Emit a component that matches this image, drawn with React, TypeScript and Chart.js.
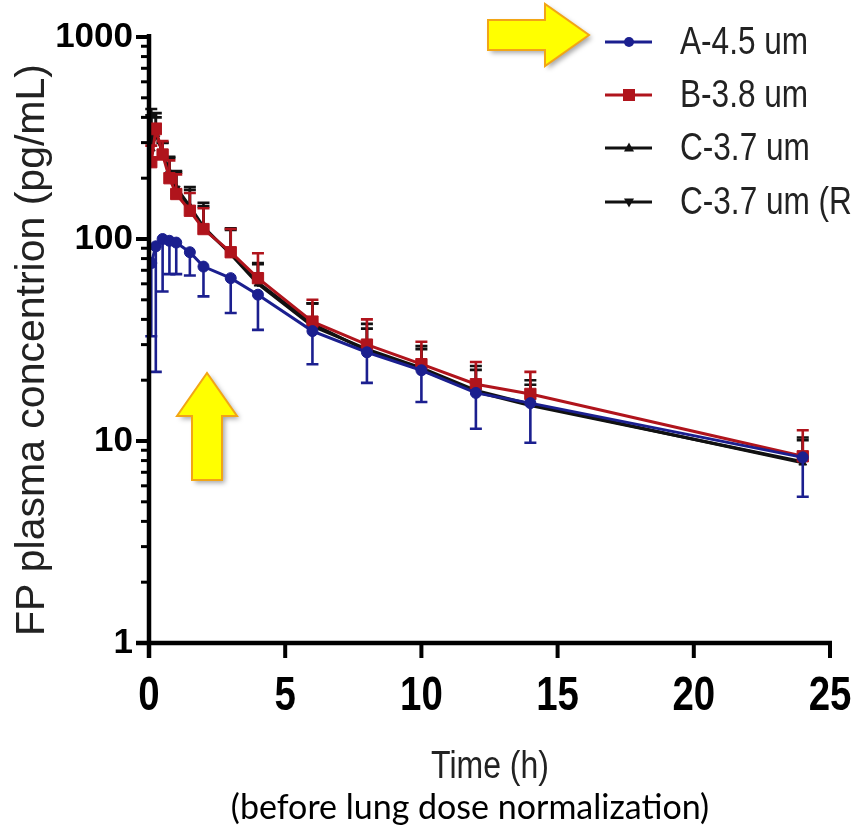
import React, { useEffect, useRef } from 'react';
import { Chart, registerables } from 'chart.js';
Chart.register(...registerables);

// ---- data ----
const times = [0.083, 0.25, 0.5, 0.75, 1, 1.5, 2, 3, 4, 6, 8, 10, 12, 14, 24];
const seriesLabels = ['A-4.5 um', 'B-3.8 um', 'C-3.7 um', 'C-3.7 um (R)'];
const valuesA = [76, 92, 100, 98, 96, 86, 73, 64, 53, 35, 27.5, 22.4, 17.3, 15.4, 8.3];
const errorsA = [43, 70, 45, 31, 29, 20, 21, 21, 17.5, 11, 8.1, 6.8, 5.8, 5.6, 3.0];
const valuesB = [240, 350, 262, 200, 167, 138, 112, 86, 64, 39, 30, 24, 19.1, 17.1, 8.4];
const errorsB = [50, 22, 43, 45, 42, 31, 30, 26, 21, 11, 10, 7, 5.5, 4.9, 2.9];
const valuesC = [280, 330, 270, 215, 180, 145, 115, 84, 60, 37, 28.5, 23, 17.8, 15.2, 7.8];
const errorsC = [160, 90, 29, 40, 37, 36, 36, 29, 16, 11, 9.5, 6.5, 5.7, 4.8, 2.3];
const valuesCR = [300, 340, 265, 210, 178, 142, 113, 85, 61, 38, 28, 22.5, 17.5, 15, 7.9];
const errorsCR = [110, 60, 35, 42, 35, 33, 32, 26, 14, 10, 8, 6, 5, 4, 2.5];
const xTickValues = [0, 5, 10, 15, 20, 25];
const yMajorTicks = [1, 10, 100, 1000];
const yTitle = 'FP plasma concentrion (pg/mL)';
const xTitle = 'Time (h)';
const subTitle = '(before lung dose normalization)';

const BLUE = '#1b1f8f';
const RED = '#b0141c';
const BLACK = '#111111';
const SANS = '"Liberation Sans", Arial, Helvetica, sans-serif';

const pts = (vals: number[]) => times.map((t, i) => ({ x: t, y: vals[i] }));

function narrowText(ctx: CanvasRenderingContext2D, text: string, x: number, y: number, font: string, align: CanvasTextAlign, base: CanvasTextBaseline, sx = 0.82) {
  ctx.save();
  ctx.translate(x, y);
  ctx.scale(sx, 1);
  ctx.font = font;
  ctx.textAlign = align;
  ctx.textBaseline = base;
  ctx.fillText(text, 0, 0);
  ctx.restore();
}

const errorBarPlugin = {
  id: 'errorBars',
  beforeDatasetDraw(chart: any, args: any) {
    const ds = chart.data.datasets[args.index];
    const errs: number[] = ds.errs;
    if (!errs) return;
    const dir = ds.errDir;
    const ys = chart.scales.y;
    const ctx = chart.ctx;
    ctx.save();
    ctx.strokeStyle = ds.borderColor;
    ctx.lineWidth = 2.6;
    args.meta.data.forEach((p: any, i: number) => {
      const v = ds.data[i].y;
      const end = dir > 0 ? v + errs[i] : Math.max(v - errs[i], 1.01);
      const ye = ys.getPixelForValue(end);
      ctx.beginPath();
      ctx.moveTo(p.x, p.y);
      ctx.lineTo(p.x, ye);
      ctx.moveTo(p.x - 6, ye);
      ctx.lineTo(p.x + 6, ye);
      ctx.stroke();
    });
    ctx.restore();
  },
};

const axesPlugin = {
  id: 'customAxes',
  afterDraw(chart: any) {
    const ctx = chart.ctx;
    const xs = chart.scales.x;
    const ys = chart.scales.y;
    const x0 = xs.getPixelForValue(0);
    const y1 = ys.getPixelForValue(1);
    ctx.save();
    ctx.strokeStyle = '#000';
    ctx.lineCap = 'butt';
    ctx.lineWidth = 4.5;
    ctx.beginPath();
    ctx.moveTo(x0, ys.getPixelForValue(1000) - 3);
    ctx.lineTo(x0, y1 + 15);
    ctx.stroke();
    ctx.beginPath();
    ctx.moveTo(x0 - 13, y1);
    ctx.lineTo(xs.getPixelForValue(25) + 2, y1);
    ctx.stroke();
    for (let d = 1; d <= 1000; d *= 10) {
      for (let m = 1; m <= 9; m++) {
        const v = d * m;
        if (v > 1000) break;
        const py = ys.getPixelForValue(v);
        const major = m === 1;
        ctx.lineWidth = major ? 4 : 3;
        ctx.beginPath();
        ctx.moveTo(x0 - (major ? 13 : 8), py);
        ctx.lineTo(x0, py);
        ctx.stroke();
      }
    }
    ctx.lineWidth = 4;
    ctx.fillStyle = '#000';
    xTickValues.forEach((v) => {
      const px = xs.getPixelForValue(v);
      ctx.beginPath();
      ctx.moveTo(px, y1);
      ctx.lineTo(px, y1 + 15);
      ctx.stroke();
      narrowText(ctx, String(v), px, y1 + 67, 'bold 48px ' + SANS, 'center', 'alphabetic', 0.8);
    });
    ctx.restore();
  },
};

function drawArrow(ctx: CanvasRenderingContext2D, poly: number[][]) {
  ctx.save();
  ctx.shadowColor = 'rgba(0,0,0,0.35)';
  ctx.shadowBlur = 5;
  ctx.shadowOffsetX = 3;
  ctx.shadowOffsetY = 3;
  ctx.beginPath();
  poly.forEach((p, i) => (i === 0 ? ctx.moveTo(p[0], p[1]) : ctx.lineTo(p[0], p[1])));
  ctx.closePath();
  ctx.fillStyle = '#ffff00';
  ctx.fill();
  ctx.shadowColor = 'transparent';
  ctx.strokeStyle = '#f2a516';
  ctx.lineWidth = 2;
  ctx.stroke();
  ctx.restore();
}

const decorPlugin = {
  id: 'decor',
  afterDraw(chart: any) {
    const ctx = chart.ctx;
    ctx.save();
    ctx.fillStyle = '#222';
    ctx.textAlign = 'center';
    ctx.textBaseline = 'middle';
    ctx.save();
    ctx.translate(33, 350);
    ctx.rotate(-Math.PI / 2);
    ctx.font = '41px ' + SANS;
    ctx.fillText(yTitle, 0, 0);
    ctx.restore();
    narrowText(ctx, xTitle, 490, 778, '39px ' + SANS, 'center', 'alphabetic', 0.82);
    ctx.fillStyle = '#000';
    ctx.font = '34px Lato, "Open Sans", sans-serif';
    ctx.textAlign = 'center';
    ctx.textBaseline = 'middle';
    ctx.fillText(subTitle, 470, 808);

    drawArrow(ctx, [[488, 20], [545, 20], [545, 4], [589, 35], [545, 66], [545, 50], [488, 50]]);
    drawArrow(ctx, [[192, 480], [192, 416], [177, 416], [207, 373], [237, 416], [222, 416], [222, 480]]);

    const rows = [42, 95, 148, 202];
    chart.data.datasets.forEach((ds: any, i: number) => {
      const y = rows[i];
      ctx.strokeStyle = ds.borderColor;
      ctx.lineWidth = 3;
      ctx.beginPath();
      ctx.moveTo(605, y);
      ctx.lineTo(652, y);
      ctx.stroke();
      ctx.fillStyle = ds.borderColor;
      ctx.save();
      ctx.translate(629, y);
      ctx.beginPath();
      if (ds.pointStyle === 'circle') {
        ctx.arc(0, 0, 5, 0, Math.PI * 2);
      } else if (ds.pointStyle === 'rect') {
        ctx.rect(-6, -6, 12, 12);
      } else {
        if (ds.pointRotation === 180) ctx.rotate(Math.PI);
        ctx.moveTo(0, -5.5);
        ctx.lineTo(5, 3.5);
        ctx.lineTo(-5, 3.5);
        ctx.closePath();
      }
      ctx.fill();
      ctx.restore();
      ctx.fillStyle = '#222';
      narrowText(ctx, ds.label, 680, y + 1, '38.5px ' + SANS, 'left', 'middle', 0.82);
    });
    ctx.restore();
  },
};

export default function App() {
  const ref = useRef<HTMLCanvasElement>(null);
  useEffect(() => {
    if (!ref.current) return;
    const mk = (label: string, vals: number[], errs: number[], color: string, style: string, radius: number, dir: number, rot = 0) => ({
      label,
      data: pts(vals),
      errs,
      errDir: dir,
      borderColor: color,
      backgroundColor: color,
      borderWidth: 3,
      pointStyle: style,
      pointRadius: radius,
      pointRotation: rot,
      pointBorderWidth: 1,
      tension: 0,
    });
    const chart = new Chart(ref.current, {
      type: 'line',
      data: {
        datasets: [
          mk(seriesLabels[0], valuesA, errorsA, BLUE, 'circle', 5.5, -1),
          mk(seriesLabels[1], valuesB, errorsB, RED, 'rect', 8, 1),
          mk(seriesLabels[2], valuesC, errorsC, BLACK, 'triangle', 4.5, 1),
          mk(seriesLabels[3], valuesCR, errorsCR, BLACK, 'triangle', 4.5, 1, 180),
        ] as any,
      },
      options: {
        animation: false,
        responsive: false,
        layout: { padding: { top: 36, right: 21, left: 0, bottom: 0 } },
        plugins: { legend: { display: false }, tooltip: { enabled: false } },
        scales: {
          x: {
            type: 'linear',
            min: 0,
            max: 25,
            afterFit: (s: any) => { s.height = 189; },
            afterBuildTicks: (s: any) => { s.ticks = xTickValues.map((v) => ({ value: v })); },
            grid: { display: false, drawTicks: false },
            border: { display: false },
            ticks: { display: false },
          },
          y: {
            type: 'logarithmic',
            min: 1,
            max: 1000,
            afterFit: (s: any) => { s.width = 149; },
            afterBuildTicks: (s: any) => { s.ticks = yMajorTicks.map((v) => ({ value: v })); },
            grid: { display: false, drawTicks: false },
            border: { display: false },
            ticks: {
              color: '#000',
              padding: 16,
              callback: (v: any) => String(v),
              font: { family: SANS, size: 35, weight: 'bold' },
            },
          },
        },
      },
      plugins: [errorBarPlugin, axesPlugin, decorPlugin],
    });
    return () => chart.destroy();
  }, []);
  return (
    <div style={{ position: 'absolute', left: 0, top: 0, width: 851, height: 832, background: '#fff' }}>
      <canvas ref={ref} width={851} height={832} style={{ display: 'block' }} />
    </div>
  );
}
